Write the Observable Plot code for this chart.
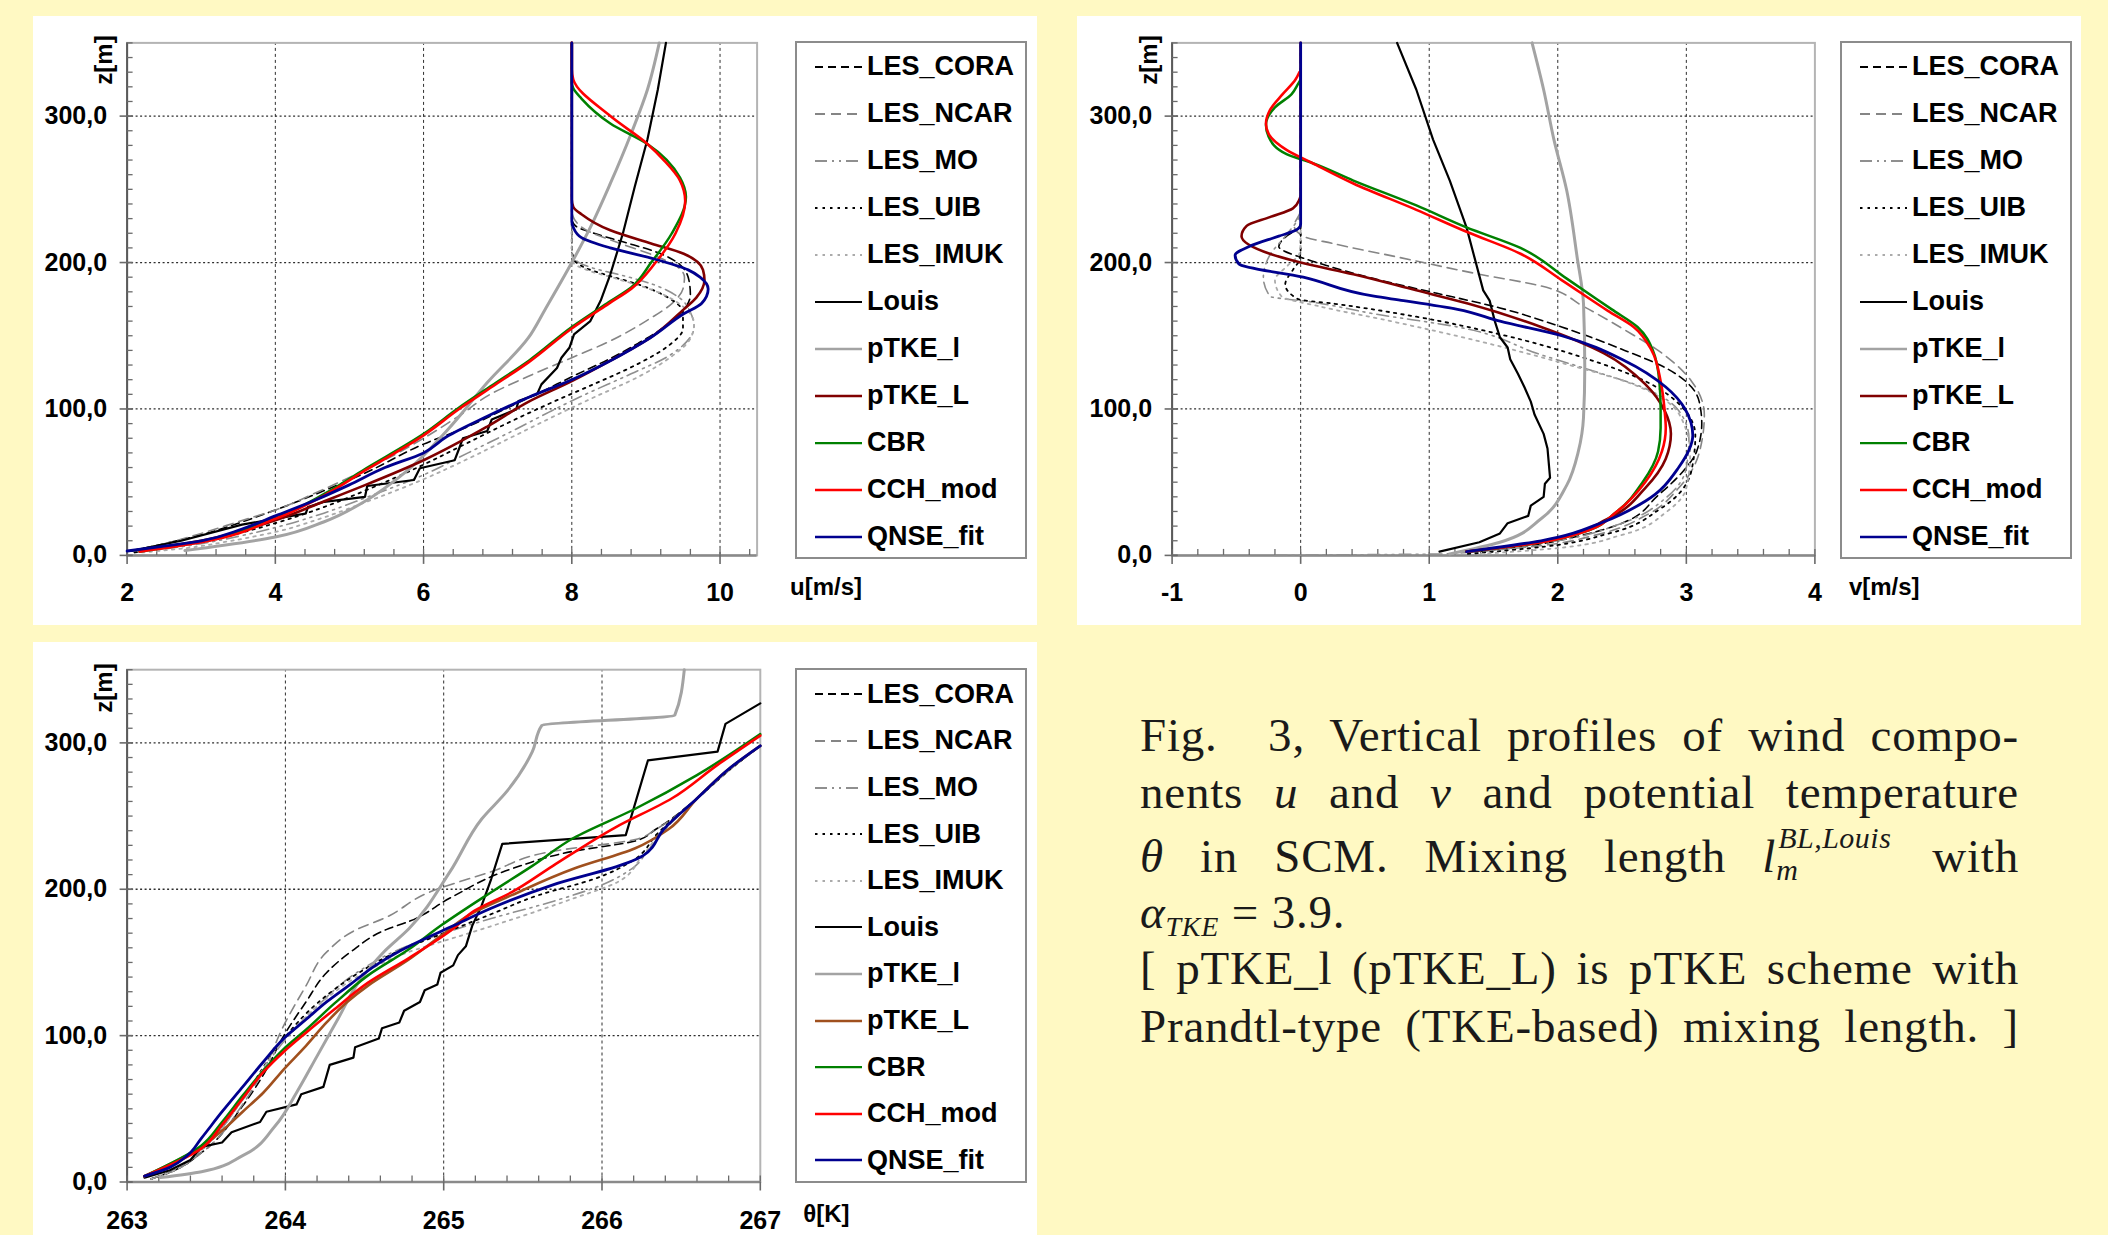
<!DOCTYPE html>
<html><head><meta charset="utf-8">
<script src="https://cdn.jsdelivr.net/npm/d3@7"></script>
<script src="https://cdn.jsdelivr.net/npm/@observablehq/plot@0.6"></script>
<style>
html,body{margin:0;padding:0;}
body{width:2108px;height:1235px;background:#FFF9C3;position:relative;overflow:hidden;font-family:"Liberation Sans",Arial,sans-serif;}
.panel{position:absolute;background:#fff;}
.panel svg{display:block;}
.legend{position:absolute;background:#fff;border:2px solid #8c8c8c;box-sizing:border-box;}
.lg-item{position:absolute;left:0;height:30px;display:flex;align-items:center;}
.lg-item svg{margin-left:18px;}
.lg-item span{font-weight:bold;font-size:27px;color:#000;margin-left:5px;white-space:nowrap;}
.zlab{position:absolute;width:60px;height:28px;line-height:28px;text-align:center;font-weight:bold;font-size:24px;color:#000;transform:rotate(-90deg);transform-origin:50% 50%;}
.cap{position:absolute;left:1140px;width:879px;font-family:"Liberation Serif","Times New Roman",serif;font-size:47px;letter-spacing:0.8px;color:#1a1a1a;line-height:56px;height:56px;text-align:justify;text-align-last:justify;}
.cap.left{text-align:left;text-align-last:left;}
.ss{display:inline-block;position:relative;width:120px;height:10px;}
.ss .sup{position:absolute;left:2px;top:-38px;font-size:30px;font-style:italic;line-height:28px;letter-spacing:0.5px;}
.ss .sub{position:absolute;left:0px;top:-6px;font-size:30px;font-style:italic;line-height:28px;}
.sb{font-size:28px;font-style:italic;position:relative;top:8px;line-height:0;}
</style>
</head><body>
<div class="panel" id="p1" style="left:33px;top:16px;width:1004px;height:609px;"></div>
<div class="panel" id="p2" style="left:1077px;top:16px;width:1004px;height:609px;"></div>
<div class="panel" id="p3" style="left:33px;top:642px;width:1004px;height:593px;"></div>
<div class="legend" id="lg1" style="left:795px;top:41px;width:232px;height:518px;"></div>
<div class="legend" id="lg2" style="left:1840px;top:41px;width:232px;height:518px;"></div>
<div class="legend" id="lg3" style="left:795px;top:668px;width:232px;height:515px;"></div>
<div class="zlab" style="left:74px;top:46px;">z[m]</div>
<div class="zlab" style="left:1119px;top:46px;">z[m]</div>
<div class="zlab" style="left:74px;top:674px;">z[m]</div>

<div class="cap" style="top:707px;">Fig.&nbsp; 3, Vertical profiles of wind compo-</div>
<div class="cap" style="top:764px;">nents <i>u</i> and <i>v</i> and potential temperature</div>
<div class="cap" style="top:828px;"><i>θ</i> in SCM. Mixing length <i>l</i><span class="ss"><span class="sup">BL,Louis</span><span class="sub">m</span></span> with</div>
<div class="cap left" style="top:884px;"><i>α</i><span class="sb">TKE</span> = 3.9.</div>
<div class="cap" style="top:940px;">[ pTKE_l (pTKE_L) is pTKE scheme with</div>
<div class="cap" style="top:998px;">Prandtl-type (TKE-based) mixing length. ]</div>

<script>
// ---------- series names and styles ----------
const seriesNames = ["LES_CORA","LES_NCAR","LES_MO","LES_UIB","LES_IMUK","Louis","pTKE_l","pTKE_L","CBR","CCH_mod","QNSE_fit"];
const seriesColors = ["#000000","#858585","#8f8f8f","#000000","#ababab","#000000","#a3a3a3","#800000","#008000","#ff0000","#00008f"];
const seriesColorsTheta = ["#000000","#858585","#8f8f8f","#000000","#ababab","#000000","#a3a3a3","#a0501e","#008000","#ff0000","#00008f"];
const seriesWidths = [1.6,1.6,1.6,1.8,1.8,2.2,3,2.6,2.5,2.6,2.8];
const seriesDash = ["8,5","10,6","12,5,2,5,2,5","2.5,5","2.5,5",null,null,null,null,null,null];

// ---------- u profiles [u (m/s), z (m)] ----------
const U_LES_CORA = [[2.05,3],[2.5,8],[3,14],[3.5,22],[4,31],[4.6,43],[5.2,56],[6,76],[6.6,88],[7.1,100],[7.6,112],[8,122],[8.5,134],[8.9,145],[9.25,156],[9.5,167],[9.6,178],[9.58,188],[9.45,199],[9.15,207],[8.7,214],[8.3,220],[8.05,225],[8.0,230],[8.0,350]];
const U_LES_NCAR = [[2.05,3],[2.5,8],[3,15],[3.5,23],[4,31],[4.6,44],[5.2,58],[6,80],[6.5,96],[6.9,110],[7.4,122],[8,135],[8.5,146],[9.0,160],[9.35,172],[9.5,182],[9.52,190],[9.4,198],[9.1,205],[8.6,214],[8.2,222],[8.03,230],[8.0,236],[8.0,350]];
const U_LES_MO = [[2.1,2],[2.6,5],[3,8],[3.5,13],[4,19],[4.6,28],[5.2,39],[6,55],[6.6,70],[7.2,85],[7.7,98],[8.1,108],[8.8,124],[9.3,136],[9.55,146],[9.65,156],[9.6,166],[9.45,176],[9.1,185],[8.7,191],[8.3,196],[8.05,202],[8.0,210],[8.0,350]];
const U_LES_UIB = [[2.1,2],[2.6,6],[3,9],[3.5,15],[4,22],[4.6,32],[5.2,44],[6,62],[6.6,77],[7.2,92],[7.8,106],[8.3,117],[8.9,131],[9.3,143],[9.5,155],[9.5,166],[9.3,176],[8.9,185],[8.5,191],[8.2,196],[8.03,202],[8.0,210],[8.0,350]];
const U_LES_IMUK = [[2.2,2],[2.8,5],[3.3,9],[4,16],[4.6,25],[5.2,36],[6,52],[6.6,66],[7.2,81],[7.8,96],[8.3,108],[8.9,122],[9.35,136],[9.6,148],[9.65,158],[9.5,170],[9.1,181],[8.6,189],[8.2,195],[8.02,200],[8.0,208],[8.0,350]];
const U_Louis = [[2.05,3],[2.73,10],[3.55,21],[4.22,27],[4.41,28.6],[4.44,33],[4.66,36.6],[5.21,40],[5.24,47.4],[5.87,51.5],[5.95,59.5],[6.42,65],[6.48,73],[6.53,80],[6.86,85],[6.92,92.8],[7.25,99.7],[7.28,105.4],[7.53,110],[7.59,116.8],[7.8,128],[7.86,135],[7.97,142],[8.03,151],[8.25,160],[8.39,174],[8.52,192],[8.69,220],[8.85,252],[9.02,284],[9.16,318],[9.27,350]];
const U_pTKE_l = [[2.78,3.3],[4.0,12.5],[4.66,23],[5.21,37],[5.76,57],[6.31,85],[6.86,118],[7.42,149],[7.64,168],[8.0,200],[8.25,224],[8.52,254],[8.8,288],[9.02,318],[9.18,350]];
const U_pTKE_L = [[2.17,3.3],[3.0,10],[4.0,24],[4.66,37],[5.21,48],[6.0,65],[6.86,88],[7.42,105],[8.0,119],[8.52,133],[9.07,149],[9.51,168],[9.68,176],[9.79,188],[9.77,195],[9.51,206],[9.07,213],[8.52,222],[8.13,233],[8.02,238],[8.0,243],[8.0,350]];
const U_CBR = [[2.17,2.6],[3.0,9.5],[4.0,25.5],[4.66,42],[5.21,59],[6.0,83],[6.48,101],[6.92,116],[7.42,133],[8.0,156],[8.5,173],[8.8,183],[9.07,200],[9.35,220],[9.54,245],[9.46,258],[9.02,281],[8.52,295],[8.13,312],[8.02,319],[8.0,323],[8.0,350]];
const U_CCH_mod = [[2.17,2.6],[3.0,9],[4.0,25],[4.66,41],[5.21,58],[6.0,82],[6.48,100],[6.92,115],[7.42,132],[8.0,155],[8.5,172],[8.8,182],[9.13,200],[9.4,220],[9.53,242],[9.46,256],[9.24,270],[9.02,281],[8.52,300],[8.02,325],[8.0,332],[8.0,350]];
const U_QNSE_fit = [[2.0,3],[2.45,6],[3.0,10],[3.55,18],[4.0,27],[4.55,38],[4.99,48],[5.48,60],[6.0,70],[6.31,81],[6.86,95],[7.42,108],[8.0,120],[8.52,133],[9.07,149],[9.51,165],[9.75,172],[9.84,182],[9.73,190],[9.57,195],[9.07,203],[8.52,210],[8.13,217],[8.02,224],[8.0,228],[8.0,350]];

// ---------- v profiles [v (m/s), z (m)] ----------
const V_LES_CORA = [[1.3,2],[1.8,7],[2.2,14],[2.5,22],[2.78,41],[2.98,58],[3.08,71],[3.12,90],[3.1,105],[3.04,115],[2.84,128],[2.52,140],[2.03,156],[1.55,169],[1.06,179],[0.57,189],[0.2,198],[0.02,203],[-0.17,211],[-0.11,218],[-0.01,224],[0,230],[0,350]];
const V_LES_NCAR = [[1.3,2],[1.9,7],[2.3,14],[2.7,28],[2.94,46],[3.1,70],[3.14,96],[3.04,119],[2.78,140],[2.52,154],[2.2,170],[1.87,184],[1.39,192],[0.74,204],[0.25,213],[0.02,218],[-0.05,225],[0,236],[0,350]];
const V_LES_MO = [[-0.2,0],[0.5,0.5],[1.1,1],[1.5,4],[2.0,10],[2.5,22],[2.85,40],[3.0,60],[3.02,80],[2.94,99],[2.68,114],[2.2,128],[1.87,137],[1.22,156],[0.57,165],[0.09,173],[-0.24,177],[-0.29,190],[-0.24,205],[-0.1,220],[-0.01,232],[0,240],[0,350]];
const V_LES_UIB = [[1.3,1],[1.9,6],[2.4,15],[2.8,32],[3.04,58],[3.07,82],[2.97,101],[2.68,119],[2.2,135],[1.55,151],[0.9,163],[0.25,172],[-0.02,175],[-0.12,185],[-0.06,195],[-0.01,202],[0,210],[0,350]];
const V_LES_IMUK = [[1.4,1],[2.0,5],[2.5,14],[2.85,30],[3.0,46],[3.03,70],[2.98,90],[2.85,105],[2.55,118],[2.05,131],[1.4,146],[0.7,160],[0.15,170],[-0.15,177],[-0.2,188],[-0.1,198],[-0.01,206],[0,215],[0,350]];
const V_Louis = [[1.08,2.6],[1.39,9],[1.55,15],[1.61,22],[1.77,27],[1.79,34],[1.89,40],[1.9,49],[1.94,53],[1.92,73],[1.89,83],[1.82,96],[1.79,105],[1.74,115],[1.69,124],[1.63,134],[1.61,142],[1.55,149],[1.51,160],[1.47,174],[1.42,181],[1.29,224],[1.16,256],[1.03,284],[0.9,318],[0.75,350]];
const V_pTKE_l = [[1.16,1],[1.55,9],[1.87,25],[2.07,48],[2.16,71],[2.2,94],[2.21,128],[2.2,172],[2.15,204],[2.07,249],[1.97,284],[1.89,318],[1.8,350]];
const V_pTKE_L = [[1.29,2.6],[1.87,9],[2.39,25],[2.68,46],[2.84,66],[2.88,83],[2.83,99],[2.68,117],[2.36,138],[1.87,156],[1.3,172],[0.9,181],[0.41,192],[0,200],[-0.24,206],[-0.46,218],[-0.42,225],[-0.24,231],[-0.06,237],[-0.01,243],[0,246],[0,350]];
const V_CBR = [[1.29,2.6],[1.87,9],[2.2,16],[2.46,30],[2.66,50],[2.78,71],[2.8,87],[2.8,100],[2.79,119],[2.74,140],[2.62,156],[2.42,168],[2.07,189],[1.71,210],[1.29,224],[0.9,239],[0.41,256],[0.09,268],[-0.11,274],[-0.25,286],[-0.27,294],[-0.2,306],[-0.07,315],[-0.02,322],[0,325]];
const V_CCH_mod = [[1.29,2.6],[1.87,9],[2.2,16],[2.46,30],[2.68,50],[2.81,71],[2.84,87],[2.83,100],[2.8,119],[2.73,140],[2.59,156],[2.39,167],[2.03,188],[1.71,206],[1.29,221],[0.9,236],[0.41,254],[0.09,268],[-0.11,277],[-0.25,288],[-0.27,295],[-0.24,304],[-0.14,315],[-0.04,325],[-0.01,330]];
const V_QNSE_fit = [[1.29,2.6],[1.87,10],[2.36,23],[2.68,37],[2.94,60],[3.05,82],[2.99,100],[2.84,115],[2.52,133],[2.03,150],[1.55,160],[1.22,168],[0.8,174],[0.57,177],[0.02,190],[-0.48,199],[-0.51,205],[-0.4,211],[-0.17,218],[-0.04,222],[0,226],[0,350]];

// ---------- theta profiles [theta (K), z (m)] ----------
const T_LES_CORA = [[263.15,2],[263.3,8],[263.47,20],[263.73,52],[263.86,73],[263.99,100],[264.13,123],[264.26,143],[264.41,157],[264.65,173],[264.78,178],[265.04,194],[265.43,214],[265.82,226],[266.21,233],[266.34,241],[266.6,262],[266.81,282],[267.0,298]];
const T_LES_NCAR = [[263.15,2],[263.3,8],[263.47,20],[263.73,53],[263.86,76],[263.99,107],[264.13,134],[264.26,157],[264.46,173],[264.62,180],[264.91,198],[265.3,212],[265.69,226],[266.21,234],[266.34,241],[266.6,262],[266.81,282],[267.0,298]];
const T_LES_MO = [[263.15,2],[263.3,8],[263.47,22],[263.73,56],[263.99,96],[264.2,120],[264.45,143],[264.7,158],[265.0,170],[265.3,180],[265.7,192],[266.0,203],[266.2,215],[266.3,228],[266.4,241],[266.6,262],[266.81,282],[267.0,298]];
const T_LES_UIB = [[263.15,2],[263.3,8],[263.47,22],[263.73,57],[263.99,98],[264.2,122],[264.45,142],[264.7,157],[265.0,170],[265.3,183],[265.6,196],[265.95,207],[266.2,220],[266.35,238],[266.6,262],[266.81,282],[267.0,298]];
const T_LES_IMUK = [[263.15,2],[263.3,8],[263.47,22],[263.73,56],[263.99,97],[264.2,120],[264.45,140],[264.75,156],[265.1,168],[265.45,180],[265.8,193],[266.1,205],[266.25,222],[266.38,240],[266.6,262],[266.81,282],[267.0,298]];
const T_Louis = [[263.11,3],[263.27,8],[263.4,15],[263.47,24],[263.6,27],[263.66,34],[263.84,41],[263.88,48],[264.07,53],[264.1,60],[264.24,65],[264.28,80],[264.43,85],[264.44,92],[264.59,98],[264.61,105],[264.72,109],[264.75,117],[264.85,123],[264.88,131],[264.96,135],[264.98,143],[265.06,148],[265.09,155],[265.14,161],[265.18,175],[265.24,189],[265.3,207],[265.37,231],[266.15,237],[266.29,288],[266.73,294],[266.78,313],[266.89,320],[267.0,327]];
const T_pTKE_l = [[263.21,3],[263.47,7],[263.73,18],[263.94,39],[264.07,61],[264.2,86],[264.33,111],[264.46,136],[264.62,157],[264.78,173],[265.04,212],[265.24,248],[265.4,267],[265.56,294],[265.62,312],[266.46,319],[266.52,350]];
const T_pTKE_L = [[263.11,4],[263.47,24],[263.6,35],[263.73,48],[263.86,61],[263.99,77],[264.13,93],[264.26,109],[264.39,123],[264.52,134],[264.78,152],[264.98,168],[265.17,183],[265.43,196],[265.82,214],[266.21,228],[266.42,241],[266.6,262],[266.81,283],[267.0,298]];
const T_CBR = [[263.11,4],[263.47,25],[263.6,41],[263.73,59],[263.86,76],[263.99,91],[264.13,104],[264.31,122],[264.52,141],[264.78,159],[264.98,175],[265.3,198],[265.56,216],[265.82,235],[266.21,255],[266.6,278],[267.0,306]];
const T_CCH_mod = [[263.11,4],[263.47,23],[263.6,39],[263.73,57],[263.86,75],[263.99,89],[264.13,102],[264.31,118],[264.52,136],[264.78,153],[265.06,173],[265.19,185],[265.43,198],[265.69,216],[266.08,242],[266.44,262],[266.73,285],[267.0,305]];
const T_QNSE_fit = [[263.11,4],[263.27,10],[263.38,18],[263.47,30],[263.6,48],[263.73,65],[263.86,82],[263.99,98],[264.13,111],[264.26,123],[264.41,135],[264.57,148],[264.78,161],[265.06,175],[265.3,187],[265.69,203],[266.16,218],[266.26,223],[266.39,241],[266.6,262],[266.81,283],[267.0,298]];

// ---------- axes ----------
const zTicks = [0,100,200,300];
const uTicks = [2,4,6,8,10];
const vTicks = [-1,0,1,2,3,4];
const tTicks = [263,264,265,266,267];

const uSeries = [U_LES_CORA,U_LES_NCAR,U_LES_MO,U_LES_UIB,U_LES_IMUK,U_Louis,U_pTKE_l,U_pTKE_L,U_CBR,U_CCH_mod,U_QNSE_fit];
const vSeries = [V_LES_CORA,V_LES_NCAR,V_LES_MO,V_LES_UIB,V_LES_IMUK,V_Louis,V_pTKE_l,V_pTKE_L,V_CBR,V_CCH_mod,V_QNSE_fit];
const tSeries = [T_LES_CORA,T_LES_NCAR,T_LES_MO,T_LES_UIB,T_LES_IMUK,T_Louis,T_pTKE_l,T_pTKE_L,T_CBR,T_CCH_mod,T_QNSE_fit];

const zFmt = d => d.toFixed(1).replace(".", ",");
const FONT = '"Liberation Sans", Arial, sans-serif';

function drawPanel(o) {
  const {el, width, height, ml, mr, mt, mb, xDomain, xTicks, xMinorStep, xGrid, xLabel, labelDx, labelDy, series, colors, xLabelDy} = o;
  const ppuX = (width - ml - mr) / (xDomain[1] - xDomain[0]);
  const ppuY = (height - mt - mb) / 350;
  const x0 = xDomain[0];
  const xMinor = d3.range(Math.round((xDomain[1] - x0) / xMinorStep) + 1).map(i => +(x0 + i * xMinorStep).toFixed(4));
  const zMinor = d3.range(0, 351, 10);
  const marks = [
    Plot.ruleX(xGrid, {x: d => d, y1: 0, y2: 350, stroke: "#2e2e2e", strokeWidth: 1, strokeDasharray: "3,3"}),
    Plot.ruleY([100,200,300], {y: d => d, x1: xDomain[0], x2: xDomain[1], stroke: "#2e2e2e", strokeWidth: 1.3, strokeDasharray: "2,2.5"}),
    Plot.frame({stroke: "#b4b4b4", strokeWidth: 2}),
    Plot.ruleX([x0], {x: d => d, y1: 0, y2: 350, stroke: "#5a5a5a", strokeWidth: 2}),
    Plot.ruleY([0], {y: d => d, x1: xDomain[0], x2: xDomain[1], stroke: "#8a8a8a", strokeWidth: 2.5}),
    Plot.ruleX(xMinor, {x: d => d, y1: 0, y2: 6 / ppuY, stroke: "#6a6a6a", strokeWidth: 1.3}),
    Plot.ruleX(xTicks, {x: d => d, y1: -9 / ppuY, y2: 0, stroke: "#6a6a6a", strokeWidth: 1.6}),
    Plot.ruleY(zMinor, {y: d => d, x1: x0, x2: x0 + 6 / ppuX, stroke: "#6a6a6a", strokeWidth: 1.3}),
    Plot.ruleY(zTicks, {y: d => d, x1: x0 - 7 / ppuX, x2: x0 + 6 / ppuX, stroke: "#6a6a6a", strokeWidth: 1.6})
  ];
  series.forEach((data, i) => {
    marks.push(Plot.line(data, {
      x: d => d[0], y: d => d[1],
      stroke: colors[i], strokeWidth: seriesWidths[i],
      strokeDasharray: seriesDash[i] || undefined,
      curve: seriesNames[i] === "Louis" ? "linear" : "monotone-y",
      strokeLinejoin: "round"
    }));
  });
  marks.push(
    Plot.text(xTicks, {x: d => d, y: 0, dy: xLabelDy, text: d => String(d), fontSize: 25, fontWeight: "bold", fill: "#000"}),
    Plot.text(zTicks, {x: x0, y: d => d, dx: -20, textAnchor: "end", text: zFmt, fontSize: 25, fontWeight: "bold", fill: "#000"}),
    Plot.text([xLabel], {frameAnchor: "bottom-right", dx: labelDx, dy: labelDy, textAnchor: "start", text: d => d, fontSize: 24, fontWeight: "bold", fill: "#000"})
  );
  const chart = Plot.plot({
    width, height, marginLeft: ml, marginRight: mr, marginTop: mt, marginBottom: mb,
    x: {domain: xDomain, axis: null},
    y: {domain: [0, 350], axis: null},
    style: {background: "transparent", fontFamily: FONT, overflow: "visible"},
    marks
  });
  document.getElementById(el).appendChild(chart);
}

drawPanel({el: "p1", width: 1004, height: 609, ml: 93.6, mr: 280.4, mt: 26.4, mb: 70.1,
  xDomain: [2, 10.5], xTicks: uTicks, xMinorStep: 0.4, xGrid: [4,6,8,10], xLabel: "u[m/s]",
  labelDx: 33, labelDy: 40, xLabelDy: 38, series: uSeries, colors: seriesColors});
drawPanel({el: "p2", width: 1004, height: 609, ml: 94.6, mr: 266.6, mt: 26.4, mb: 70.1,
  xDomain: [-1, 4], xTicks: vTicks, xMinorStep: 0.2, xGrid: [0,1,2,3], xLabel: "v[m/s]",
  labelDx: 34, labelDy: 40, xLabelDy: 38, series: vSeries, colors: seriesColors});
drawPanel({el: "p3", width: 1004, height: 593, ml: 93.6, mr: 277.2, mt: 27.2, mb: 53.5,
  xDomain: [263, 267], xTicks: tTicks, xMinorStep: 0.2, xGrid: [264,265,266], xLabel: "θ[K]",
  labelDx: 43, labelDy: 40, xLabelDy: 39, series: tSeries, colors: seriesColorsTheta});

// ---------- legends ----------
function drawLegend(el, colors, firstY, step) {
  const box = document.getElementById(el);
  seriesNames.forEach((name, i) => {
    const item = document.createElement("div");
    item.className = "lg-item";
    item.style.top = (firstY + i * step - 15 - 2) + "px";
    const w = 47;
    item.innerHTML = `<svg width="${w}" height="10"><line x1="0" y1="5" x2="${w}" y2="5" stroke="${colors[i]}" stroke-width="${Math.max(1.8, seriesWidths[i] * 0.9)}" ${seriesDash[i] ? `stroke-dasharray="${seriesDash[i]}"` : ""}/></svg><span>${name}</span>`;
    box.appendChild(item);
  });
}
drawLegend("lg1", seriesColors, 25.5, 47);
drawLegend("lg2", seriesColors, 25.5, 47);
drawLegend("lg3", seriesColorsTheta, 26.3, 46.6);
</script>
</body></html>
